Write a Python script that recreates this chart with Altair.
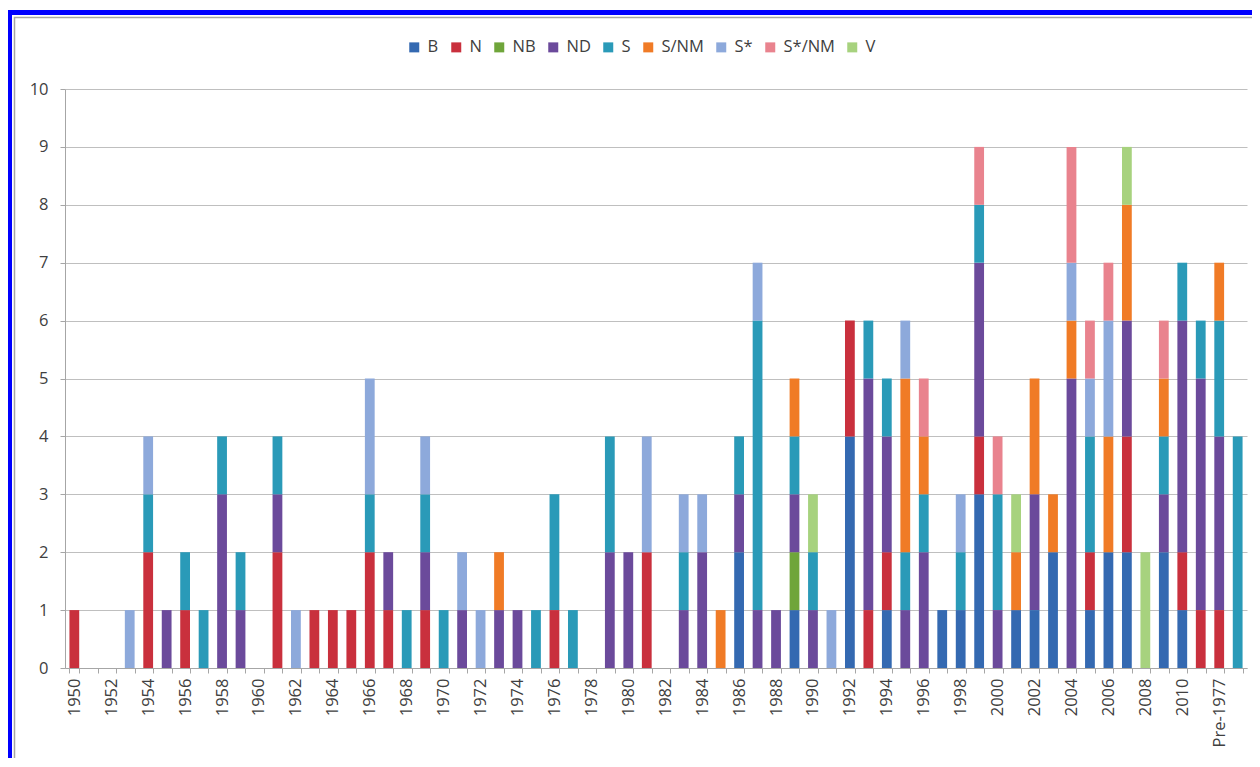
import altair as alt
import pandas as pd

# ---------------- data ----------------
years = [str(y) for y in range(1950, 2012)]
categories = years + ["Pre-1977", "Unknown"]
shown_labels = categories[:63:2]  # every other category is labelled

series = ["B", "N", "NB", "ND", "S", "S/NM", "S*", "S*/NM", "V"]
colors = ["#3469B1", "#C9303D", "#6FA53A", "#6B4A9B", "#2A9AB8",
          "#F07B26", "#8DA9DB", "#E9838E", "#A7D27E"]

#         1950-1959                      1960-1969                      1970-1979                      1980-1989                      1990-1999                      2000-2009                      2010 2011 Pre  Unk
B      = [0,0,0,0,0,0,0,0,0,0,           0,0,0,0,0,0,0,0,0,0,           0,0,0,0,0,0,0,0,0,0,           0,0,0,0,0,0,2,0,0,1,           0,0,4,0,1,0,0,1,1,3,           0,1,1,2,0,1,2,2,0,2,           1,0,0,0]
N      = [1,0,0,0,2,0,1,0,0,0,           0,2,0,1,1,1,2,1,0,1,           0,0,0,0,0,0,1,0,0,0,           0,2,0,0,0,0,0,0,0,0,           0,0,2,1,1,0,0,0,0,1,           0,0,0,0,0,1,0,2,0,0,           1,1,1,0]
NB     = [0,0,0,0,0,0,0,0,0,0,           0,0,0,0,0,0,0,0,0,0,           0,0,0,0,0,0,0,0,0,0,           0,0,0,0,0,0,0,0,0,1,           0,0,0,0,0,0,0,0,0,0,           0,0,0,0,0,0,0,0,0,0,           0,0,0,0]
ND     = [0,0,0,0,0,1,0,0,3,1,           0,1,0,0,0,0,0,1,0,1,           0,1,0,1,1,0,0,0,0,2,           2,0,0,1,2,0,1,1,1,1,           1,0,0,4,2,1,2,0,0,3,           1,0,2,0,5,0,0,2,0,1,           4,4,3,0]
S      = [0,0,0,0,1,0,1,1,1,1,           0,1,0,0,0,0,1,0,1,1,           1,0,0,0,0,1,2,1,0,2,           0,0,0,1,0,0,1,5,0,1,           1,0,0,1,1,1,1,0,1,1,           2,0,0,0,0,2,0,0,0,1,           1,1,2,4]
S_NM   = [0,0,0,0,0,0,0,0,0,0,           0,0,0,0,0,0,0,0,0,0,           0,0,0,1,0,0,0,0,0,0,           0,0,0,0,0,1,0,0,0,1,           0,0,0,0,0,3,1,0,0,0,           0,1,2,1,1,0,2,2,0,1,           0,0,1,0]
S_star = [0,0,0,1,1,0,0,0,0,0,           0,0,1,0,0,0,2,0,0,1,           0,1,1,0,0,0,0,0,0,0,           0,2,0,1,1,0,0,1,0,0,           0,1,0,0,0,1,0,0,1,0,           0,0,0,0,1,1,2,0,0,0,           0,0,0,0]
S_s_NM = [0,0,0,0,0,0,0,0,0,0,           0,0,0,0,0,0,0,0,0,0,           0,0,0,0,0,0,0,0,0,0,           0,0,0,0,0,0,0,0,0,0,           0,0,0,0,0,0,1,0,0,1,           1,0,0,0,2,1,1,0,0,1,           0,0,0,0]
V      = [0,0,0,0,0,0,0,0,0,0,           0,0,0,0,0,0,0,0,0,0,           0,0,0,0,0,0,0,0,0,0,           0,0,0,0,0,0,0,0,0,0,           1,0,0,0,0,0,0,0,0,0,           0,1,0,0,0,0,0,1,2,0,           0,0,0,0]

values = [B, N, NB, ND, S, S_NM, S_star, S_s_NM, V]

rows = []
for si, (name, vals) in enumerate(zip(series, values)):
    for cat, v in zip(categories, vals):
        if v > 0:
            rows.append({"cat": cat, "series": name, "order": si, "value": v})
df = pd.DataFrame(rows)

FONT = "Open Sans"
TXT = "#404040"
label_expr = "indexof(" + str(shown_labels).replace("'", '"') + ", datum.value) >= 0 ? datum.value : ''"

bars = alt.Chart(df).mark_bar().encode(
    x=alt.X("cat:N", sort=categories, scale=alt.Scale(domain=categories, paddingInner=0.47, paddingOuter=0.24),
            axis=alt.Axis(title=None, labelAngle=-90, labelExpr=label_expr, tickBand="extent",
                          labelFontSize=16.5, labelColor=TXT, labelFont=FONT, labelPadding=5,
                          domainColor="#A6A6A6", tickColor="#A6A6A6", tickSize=5, grid=False)),
    y=alt.Y("sum(value):Q", stack="zero", scale=alt.Scale(domain=[0, 10], nice=False),
            axis=alt.Axis(title=None, values=list(range(0, 11)), labelFontSize=16.5, labelColor=TXT,
                          labelFont=FONT, labelPadding=12, domainColor="#A6A6A6", tickColor="#A6A6A6",
                          tickSize=5, gridColor="#BFBFBF", gridWidth=1)),
    color=alt.Color("series:N", scale=alt.Scale(domain=series, range=colors),
                    legend=alt.Legend(title=None, orient="none", legendX=341, legendY=-50,
                                      direction="horizontal", symbolType="square", symbolSize=100,
                                      symbolStrokeWidth=0, labelFontSize=16.5, labelFont=FONT,
                                      labelColor=TXT, columnPadding=9, labelOffset=5)),
    order=alt.Order("order:Q"),
)

frame_df = pd.DataFrame({"k": [0]})
blue_frame = alt.Chart(frame_df).mark_rect(fill=None, stroke="#0000FF", strokeWidth=5).encode(
    x=alt.value(-55.5), x2=alt.value(1220), y=alt.value(-76.5), y2=alt.value(700))
grey_frame = alt.Chart(frame_df).mark_rect(fill=None, stroke="#A6A6A6", strokeWidth=1.5).encode(
    x=alt.value(-50.5), x2=alt.value(1215), y=alt.value(-71.5), y2=alt.value(695))

chart = alt.layer(bars, grey_frame, blue_frame).properties(
    width=1182, height=579,
    autosize=alt.AutoSizeParams(type="none"),
    padding={"left": 57, "top": 81, "right": 5, "bottom": 90},
    background="white",
).configure_view(stroke=None)

chart.save("out.html", embed_options={"renderer": "svg", "actions": False})
